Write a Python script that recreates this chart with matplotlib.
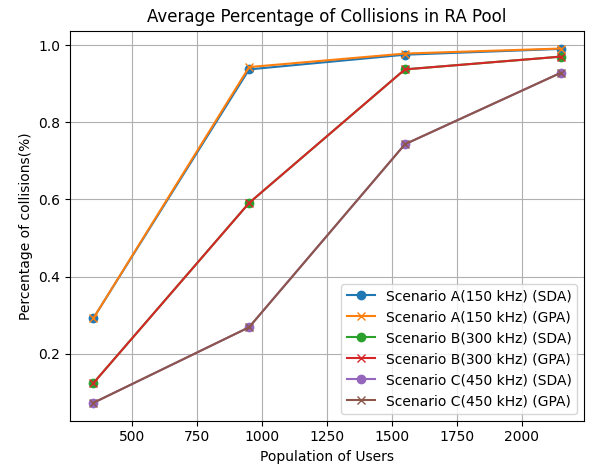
import matplotlib
matplotlib.use("Agg")
import matplotlib.pyplot as plt

users = [350, 950, 1550, 2150]
a_sda = [0.292, 0.937, 0.975, 0.990]
a_gpa = [0.292, 0.943, 0.978, 0.991]
b_sda = [0.124, 0.591, 0.937, 0.970]
b_gpa = [0.124, 0.591, 0.937, 0.970]
c_sda = [0.073, 0.269, 0.743, 0.928]
c_gpa = [0.073, 0.269, 0.743, 0.928]

labels = ["Scenario A(150 kHz) (SDA)", "Scenario A(150 kHz) (GPA)",
          "Scenario B(300 kHz) (SDA)", "Scenario B(300 kHz) (GPA)",
          "Scenario C(450 kHz) (SDA)", "Scenario C(450 kHz) (GPA)"]
series = [a_sda, a_gpa, b_sda, b_gpa, c_sda, c_gpa]
markers = ["o", "x", "o", "x", "o", "x"]

fig, ax = plt.subplots(figsize=(5.96, 4.67), dpi=100)
for s, lab, m in zip(series, labels, markers):
    ax.plot(users, s, marker=m, label=lab)
ax.set_title("Average Percentage of Collisions in RA Pool")
ax.set_xlabel("Population of Users")
ax.set_ylabel("Percentage of collisions(%)")
ax.grid(True)
ax.legend(loc="lower right")
fig.subplots_adjust(left=0.1174, right=0.98, top=0.934, bottom=0.0994)
fig.savefig("out.png", dpi=100)
